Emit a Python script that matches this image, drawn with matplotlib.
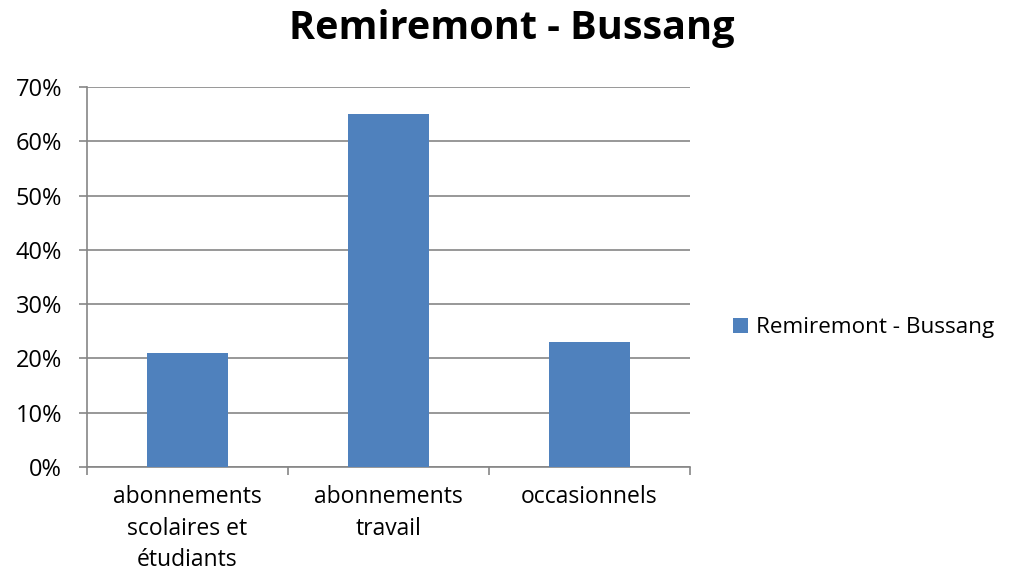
import matplotlib
matplotlib.use("Agg")
import matplotlib.pyplot as plt
from matplotlib.ticker import PercentFormatter, FixedLocator
from matplotlib.patches import Patch

categories = ["abonnements\nscolaires et\nétudiants", "abonnements\ntravail", "occasionnels"]
values = [21, 65, 23]
series_name = "Remiremont - Bussang"
title = "Remiremont - Bussang"

plt.rcParams['font.family'] = ['Open Sans', 'DejaVu Sans']

fig = plt.figure(figsize=(10.14, 5.77), dpi=100)
ax = fig.add_axes([87/1014, 1-467/577, (690-87)/1014, (467-87)/577])

x = list(range(len(categories)))
color = "#4F81BD"
ax.bar(x, values, width=0.4, color=color, zorder=3)
ax.set_xlim(-0.5, len(categories)-0.5)
ax.set_ylim(0, 70)
ax.set_yticks(range(0, 71, 10))
ax.yaxis.set_major_formatter(PercentFormatter(decimals=0))
ax.grid(axis='y', color='#868686', linewidth=1.2, zorder=0)
ax.set_axisbelow(True)

ax.xaxis.set_major_locator(FixedLocator([-0.5, 0.5, 1.5, 2.5]))
ax.xaxis.set_major_formatter(plt.NullFormatter())
ax.xaxis.set_minor_locator(FixedLocator(x))
ax.set_xticklabels(categories, minor=True, linespacing=1.42)
ax.tick_params(axis='x', which='minor', length=0, pad=13, labelsize=16.5)
ax.tick_params(axis='x', which='major', length=6, color='#868686', width=1.2)
ax.tick_params(axis='y', length=6, color='#868686', width=1.2, labelsize=17, pad=12)

for s in ['top', 'right']:
    ax.spines[s].set_visible(False)
for s in ['left', 'bottom']:
    ax.spines[s].set_color('#868686')
    ax.spines[s].set_linewidth(1.2)

fig.text(512/1014, 1-29/577, title, ha='center', va='center', fontsize=28.5, fontweight='bold')

handles = [Patch(facecolor=color, label=series_name)]
fig.legend(handles=handles, loc='center left', bbox_to_anchor=(713/1014, 1-328/577),
           frameon=False, fontsize=16.2, handlelength=0.65, handleheight=0.65, handletextpad=0.35)

fig.savefig("out.png", dpi=100)
